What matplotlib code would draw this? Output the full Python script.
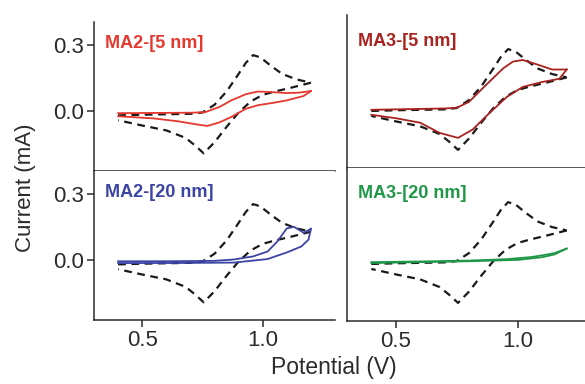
import matplotlib.pyplot as plt

plt.rcParams['font.family'] = ['Liberation Sans', 'DejaVu Sans']

# reference CV (dashed, same in every panel)
ref_fwd_v = [0.40, 0.50, 0.60, 0.70, 0.75, 0.80, 0.85, 0.90, 0.93, 0.96, 0.99, 1.03, 1.08, 1.14, 1.20]
ref_fwd_i = [-0.018, -0.015, -0.013, -0.011, -0.005, 0.03, 0.09, 0.17, 0.22, 0.255, 0.245, 0.21, 0.17, 0.145, 0.13]
ref_rev_v = [1.20, 1.12, 1.05, 1.00, 0.95, 0.90, 0.85, 0.80, 0.755, 0.72, 0.68, 0.60, 0.50, 0.40]
ref_rev_i = [0.13, 0.108, 0.09, 0.075, 0.045, -0.005, -0.07, -0.14, -0.19, -0.155, -0.12, -0.086, -0.064, -0.04]

# MA2-[5 nm]
ma2_5_fwd_v = [0.40, 0.55, 0.70, 0.76, 0.82, 0.87, 0.93, 0.98, 1.03, 1.10, 1.15, 1.20]
ma2_5_fwd_i = [-0.008, -0.007, -0.006, -0.004, 0.02, 0.05, 0.078, 0.09, 0.088, 0.083, 0.085, 0.092]
ma2_5_rev_v = [1.20, 1.17, 1.10, 1.05, 0.98, 0.93, 0.87, 0.82, 0.77, 0.72, 0.65, 0.55, 0.40]
ma2_5_rev_i = [0.092, 0.07, 0.05, 0.04, 0.028, 0.012, -0.025, -0.05, -0.066, -0.058, -0.045, -0.032, -0.022]

# MA3-[5 nm]
ma3_5_fwd_v = [0.40, 0.55, 0.70, 0.75, 0.80, 0.87, 0.94, 0.98, 1.02, 1.08, 1.14, 1.20]
ma3_5_fwd_i = [-0.013, -0.01, -0.007, -0.004, 0.022, 0.097, 0.17, 0.2, 0.207, 0.187, 0.165, 0.165]
ma3_5_rev_v = [1.20, 1.17, 1.10, 1.02, 0.955, 0.885, 0.815, 0.755, 0.68, 0.60, 0.50, 0.40]
ma3_5_rev_i = [0.165, 0.124, 0.11, 0.088, 0.044, -0.026, -0.1, -0.137, -0.115, -0.07, -0.05, -0.035]

# MA2-[20 nm]
ma2_20_fwd_v = [0.40, 0.60, 0.80, 0.88, 0.96, 1.02, 1.06, 1.10, 1.13, 1.17, 1.20]
ma2_20_fwd_i = [-0.004, -0.004, -0.002, 0.004, 0.018, 0.04, 0.085, 0.145, 0.152, 0.125, 0.143]
ma2_20_rev_v = [1.20, 1.19, 1.16, 1.10, 1.02, 0.88, 0.60, 0.40]
ma2_20_rev_i = [0.143, 0.094, 0.063, 0.036, 0.006, -0.01, -0.012, -0.012]

# MA3-[20 nm]
ma3_20_fwd_v = [0.40, 0.60, 0.80, 0.95, 1.05, 1.10, 1.15, 1.20]
ma3_20_fwd_i = [-0.01, -0.007, -0.003, 0.003, 0.012, 0.02, 0.03, 0.05]
ma3_20_rev_v = [1.20, 1.15, 1.10, 1.00, 0.80, 0.60, 0.40]
ma3_20_rev_i = [0.05, 0.024, 0.012, 0.0, -0.006, -0.01, -0.014]

panels = [
    # name, colour, fwd, rev, axes rect, left column, bottom row, text y
    ("MA2-[5 nm]", "#e5392f", (ma2_5_fwd_v, ma2_5_fwd_i), (ma2_5_rev_v, ma2_5_rev_i),
     [0.1607, 0.5547, 0.412, 0.388], True, False, 0.915),
    ("MA3-[5 nm]", "#a8221f", (ma3_5_fwd_v, ma3_5_fwd_i), (ma3_5_rev_v, ma3_5_rev_i),
     [0.593, 0.5625, 0.407, 0.398], False, False, 0.885),
    ("MA2-[20 nm]", "#3b44a3", (ma2_20_fwd_v, ma2_20_fwd_i), (ma2_20_rev_v, ma2_20_rev_i),
     [0.1607, 0.1667, 0.412, 0.388], True, True, 0.91),
    ("MA3-[20 nm]", "#1e9848", (ma3_20_fwd_v, ma3_20_fwd_i), (ma3_20_rev_v, ma3_20_rev_i),
     [0.593, 0.164, 0.407, 0.398], False, True, 0.89),
]

fig = plt.figure(figsize=(5.85, 3.84), dpi=100)
axc = '#2b2b2b'

for name, col, fwd, rev, rect, left, bottom, ty in panels:
    ax = fig.add_axes(rect)
    ax.plot(ref_fwd_v, ref_fwd_i, color='#1a1a1a', lw=1.6, dashes=(3.5, 2.5))
    ax.plot(ref_rev_v, ref_rev_i, color='#1a1a1a', lw=1.6, dashes=(3.5, 2.5))
    ax.plot(fwd[0], fwd[1], color=col, lw=1.3)
    ax.plot(rev[0], rev[1], color=col, lw=1.3)
    ax.set_xlim(0.30, 1.30 if left else 1.275)
    ax.set_ylim(-0.27, 0.405)
    ax.spines['top'].set_visible(False)
    ax.spines['right'].set_visible(False)
    for s in ('left', 'bottom'):
        ax.spines[s].set_color(axc)
        ax.spines[s].set_linewidth(1.1)
    ax.set_xticks([0.5, 1.0])
    ax.set_xticklabels(['0.5', '1.0'] if bottom else [])
    if left:
        ax.set_yticks([0.0, 0.3])
        ax.set_yticklabels(['0.0', '0.3'])
    else:
        ax.set_yticks([])
    ax.tick_params(direction='out', length=5, width=1.1, color=axc,
                   labelsize=16, labelcolor=axc, pad=2)
    ax.text(0.045, ty, name, transform=ax.transAxes, color=col,
            fontsize=13, fontweight='bold', ha='left', va='top')

fig.text(0.044, 0.51, 'Current (mA)', rotation=90, ha='center', va='center',
         fontsize=16, color=axc)
fig.text(0.571, 0.042, 'Potential (V)', ha='center', va='center',
         fontsize=16.5, color=axc)

fig.savefig('out.png', dpi=100)
